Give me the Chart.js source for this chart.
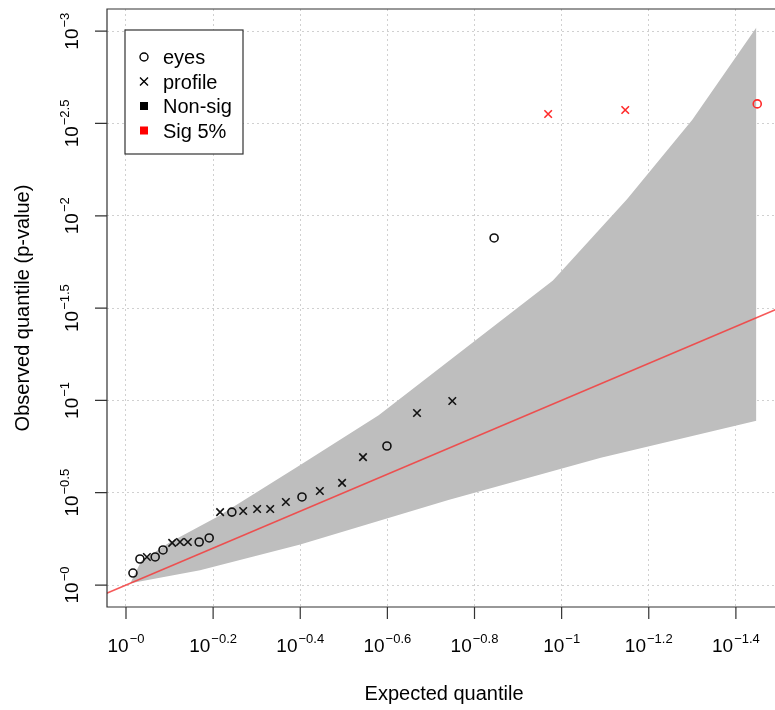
<!DOCTYPE html>
<html>
<head>
<meta charset="utf-8">
<script src="https://cdn.jsdelivr.net/npm/chart.js@4.4.0/dist/chart.umd.min.js"></script>
<style>
  html, body { margin: 0; padding: 0; background: #fff; overflow: hidden; }
  #wrap { width: 775px; height: 710px; overflow: hidden; }
  #qq { display: block; }
</style>
</head>
<body>
<div id="wrap"><canvas id="qq" width="782" height="710"></canvas></div>
<script>
// values are -log10(p): expected vs observed
const eyesExpected = [0.016, 0.032, 0.067, 0.085, 0.168, 0.191, 0.243, 0.404, 0.599, 0.845, 1.449]
const eyesObserved = [0.065, 0.141, 0.152, 0.190, 0.233, 0.255, 0.395, 0.477, 0.753, 1.880, 2.606]
const eyesSig = [false, false, false, false, false, false, false, false, false, false, true]

const profileExpected = [0.048, 0.106, 0.124, 0.142, 0.216, 0.269, 0.301, 0.331, 0.367, 0.445, 0.496, 0.544, 0.668, 0.749, 0.969, 1.146]
const profileObserved = [0.152, 0.228, 0.233, 0.233, 0.395, 0.401, 0.412, 0.412, 0.450, 0.509, 0.553, 0.693, 0.932, 0.997, 2.551, 2.573]
const profileSig = [false, false, false, false, false, false, false, false, false, false, false, false, false, false, true, true]

// confidence band edges
const bandUpperX = [0.01, 0.035, 0.1, 0.21, 0.4, 0.58, 0.81, 0.98, 1.15, 1.3, 1.447]
const bandUpperY = [0.01, 0.13, 0.23, 0.37, 0.65, 0.92, 1.34, 1.65, 2.09, 2.52, 3.02]
const bandLowerX = [0.01, 0.17, 0.4, 0.74, 1.09, 1.447]
const bandLowerY = [0.01, 0.08, 0.22, 0.46, 0.69, 0.89]

// y = x reference line
const refX = [-0.2, 1.7]
const refY = [-0.2, 1.7]

const xTicks = [0, 0.2, 0.4, 0.6, 0.8, 1, 1.2, 1.4]
const xTickExp = ['\u22120', '\u22120.2', '\u22120.4', '\u22120.6', '\u22120.8', '\u22121', '\u22121.2', '\u22121.4']
const yTicks = [0, 0.5, 1, 1.5, 2, 2.5, 3]
const yTickExp = ['\u22120', '\u22120.5', '\u22121', '\u22121.5', '\u22122', '\u22122.5', '\u22123']

const legendLabels = ['eyes', 'profile', 'Non-sig', 'Sig 5%']

const FONT = '"Liberation Sans", Arial, Helvetica, sans-serif'
const RED = '#ff2a2a'

const toPoints = (xs, ys, keep) => xs.map((v, i) => ({x: v, y: ys[i], k: keep ? keep(i) : true})).filter(p => p.k).map(p => ({x: p.x, y: p.y}))

const pointSet = (data, style, color, radius) => ({
  type: 'line',
  data: data,
  order: 0,
  showLine: false,
  pointStyle: style,
  pointRadius: radius,
  pointHoverRadius: radius,
  pointBorderWidth: 1.6,
  pointBorderColor: color,
  borderColor: color,
  pointBackgroundColor: 'rgba(0,0,0,0)',
  backgroundColor: 'rgba(0,0,0,0)'
})

const drawPower = (ctx, exp, cx, baseY) => {
  ctx.font = '19px ' + FONT
  const wb = ctx.measureText('10').width
  ctx.font = '13px ' + FONT
  const we = ctx.measureText(exp).width
  const left = cx - (wb + we + 1) / 2
  ctx.font = '19px ' + FONT
  ctx.fillText('10', left, baseY)
  ctx.font = '13px ' + FONT
  ctx.fillText(exp, left + wb + 1, baseY - 9)
}

const rAxesPlugin = {
  id: 'rAxes',
  afterDraw(chart) {
    const {ctx, chartArea: a, scales: {x, y}} = chart
    ctx.save()
    ctx.strokeStyle = '#333'
    ctx.lineWidth = 1.2
    ctx.beginPath()
    ctx.moveTo(a.right + 5, a.top)
    ctx.lineTo(a.left, a.top)
    ctx.lineTo(a.left, a.bottom)
    ctx.lineTo(a.right + 5, a.bottom)
    xTicks.forEach(v => {
      const px = x.getPixelForValue(v)
      ctx.moveTo(px, a.bottom)
      ctx.lineTo(px, a.bottom + 12)
    })
    yTicks.forEach(v => {
      const py = y.getPixelForValue(v)
      ctx.moveTo(a.left, py)
      ctx.lineTo(a.left - 12, py)
    })
    ctx.stroke()

    ctx.fillStyle = '#000'
    ctx.textAlign = 'left'
    ctx.textBaseline = 'alphabetic'
    xTicks.forEach((v, i) => drawPower(ctx, xTickExp[i], x.getPixelForValue(v), a.bottom + 45))
    yTicks.forEach((v, i) => {
      ctx.save()
      ctx.translate(a.left - 29, y.getPixelForValue(v))
      ctx.rotate(-Math.PI / 2)
      drawPower(ctx, yTickExp[i], 0, 0)
      ctx.restore()
    })

    // axis titles
    ctx.font = '20px ' + FONT
    ctx.textAlign = 'center'
    ctx.fillText('Expected quantile', (a.left + a.right) / 2 + 3, a.bottom + 93)
    ctx.save()
    ctx.translate(a.left - 78, (a.top + a.bottom) / 2)
    ctx.rotate(-Math.PI / 2)
    ctx.fillText('Observed quantile (p-value)', 0, 0)
    ctx.restore()

    // legend
    const lx = 125, ly = 30, lw = 118, lh = 124
    ctx.fillStyle = '#fff'
    ctx.fillRect(lx, ly, lw, lh)
    ctx.strokeStyle = '#333'
    ctx.lineWidth = 1.2
    ctx.strokeRect(lx, ly, lw, lh)
    const sx = lx + 19
    const rows = legendLabels.map((t, i) => ly + 27 + i * 24.5)
    ctx.lineWidth = 1.4
    ctx.strokeStyle = '#000'
    ctx.beginPath()
    ctx.arc(sx, rows[0], 4, 0, Math.PI * 2)
    ctx.stroke()
    ctx.beginPath()
    ctx.moveTo(sx - 4, rows[1] - 4); ctx.lineTo(sx + 4, rows[1] + 4)
    ctx.moveTo(sx + 4, rows[1] - 4); ctx.lineTo(sx - 4, rows[1] + 4)
    ctx.stroke()
    ctx.fillStyle = '#000'
    ctx.fillRect(sx - 4, rows[2] - 4, 8, 8)
    ctx.fillStyle = '#ff0000'
    ctx.fillRect(sx - 4, rows[3] - 4, 8, 8)
    ctx.fillStyle = '#000'
    ctx.textAlign = 'left'
    ctx.font = '20px ' + FONT
    legendLabels.forEach((t, i) => ctx.fillText(t, lx + 38, rows[i] + 7))
    ctx.restore()
  }
}

new Chart(document.querySelector('#qq'), {
  type: 'line',
  data: {
    datasets: [
      {
        data: toPoints(bandUpperX, bandUpperY),
        order: 10,
        borderWidth: 0,
        pointRadius: 0,
        fill: '+1',
        backgroundColor: '#bebebe',
        borderColor: 'rgba(0,0,0,0)'
      },
      {
        data: toPoints(bandLowerX, bandLowerY),
        order: 9,
        borderWidth: 0,
        pointRadius: 0,
        fill: false,
        borderColor: 'rgba(0,0,0,0)'
      },
      {
        data: toPoints(refX, refY),
        order: 5,
        borderColor: 'rgba(245,60,60,0.85)',
        borderWidth: 1.6,
        pointRadius: 0,
        fill: false
      },
      pointSet(toPoints(eyesExpected, eyesObserved, i => !eyesSig[i]), 'circle', '#111', 4),
      pointSet(toPoints(eyesExpected, eyesObserved, i => eyesSig[i]), 'circle', RED, 4),
      pointSet(toPoints(profileExpected, profileObserved, i => !profileSig[i]), 'crossRot', '#111', 5.3),
      pointSet(toPoints(profileExpected, profileObserved, i => profileSig[i]), 'crossRot', RED, 5.3)
    ]
  },
  options: {
    responsive: false,
    animation: false,
    events: [],
    layout: { padding: { left: 107, top: 9, right: 0, bottom: 103 } },
    elements: { line: { tension: 0 } },
    plugins: { legend: { display: false }, tooltip: { enabled: false } },
    scales: {
      x: {
        type: 'linear',
        min: -0.0436,
        max: 1.490,
        afterBuildTicks: s => { s.ticks = xTicks.map(v => ({value: v})) },
        ticks: { display: false },
        grid: { color: '#d0d0d0', lineWidth: 1, drawTicks: false },
        border: { display: false, dash: [2, 3] }
      },
      y: {
        type: 'linear',
        min: -0.119,
        max: 3.120,
        afterBuildTicks: s => { s.ticks = yTicks.map(v => ({value: v})) },
        ticks: { display: false },
        grid: { color: '#d0d0d0', lineWidth: 1, drawTicks: false },
        border: { display: false, dash: [2, 3] }
      }
    }
  },
  plugins: [rAxesPlugin]
})
</script>
</body>
</html>
